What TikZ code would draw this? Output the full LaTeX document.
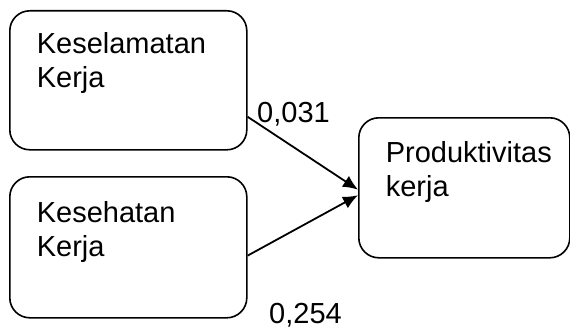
\documentclass[tikz,border=0pt]{standalone}
\usepackage{fontspec}
\setmainfont{Liberation Sans}
\usetikzlibrary{arrows.meta}

\tikzset{
  varbox/.style={draw, line width=1.6pt, rounded corners=20pt, anchor=north west,
    inner xsep=27pt, inner ysep=0pt, align=left, font=\fontsize{29}{33.4}\selectfont},
  coef/.style={font=\fontsize{29}{33.4}\selectfont, inner sep=0pt, anchor=base west},
}

\begin{document}
\begin{tikzpicture}[x=1pt, y=-1pt, >={Latex[length=15pt, width=13pt]}]
    \useasboundingbox (0,0) rectangle (570,329);
    \node[varbox, text width=183pt, text height=43pt, text depth=96pt] (kesel) at (9,10) {Keselamatan\\Kerja};
    \node[varbox, text width=183pt, text height=46pt, text depth=95pt] (keseh) at (9,176) {Kesehatan\\Kerja};
    \node[varbox, text width=157pt, text height=45pt, text depth=95pt] (prod) at (358,117) {Produktivitas\\kerja};
    \draw[->, line width=1.8pt] (kesel.-17.6) -- (prod.181);
    \draw[->, line width=1.8pt] (keseh.-4.6) -- (prod.184);
    \node[coef] (c1) at (257,122) {0,031};
    \node[coef] (c2) at (269,323.5) {0,254};
\end{tikzpicture}
\end{document}
